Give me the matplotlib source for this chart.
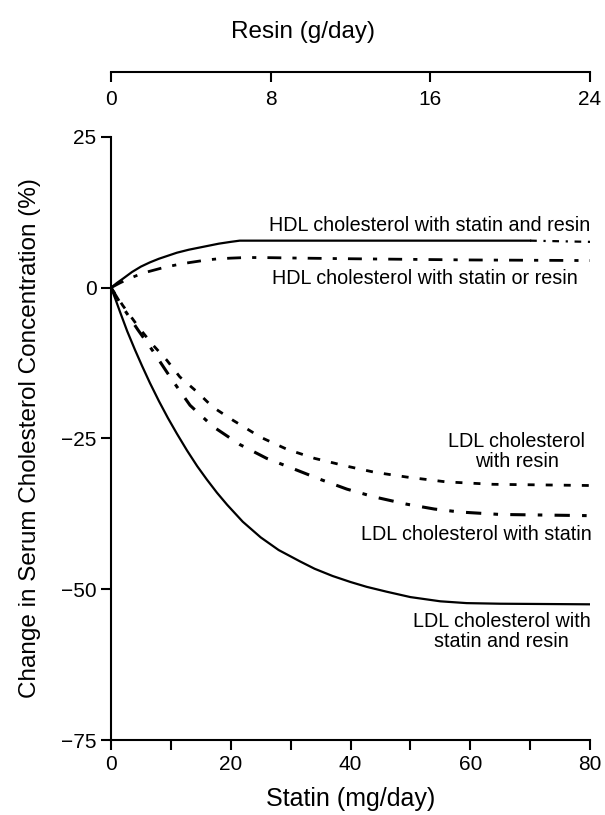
import numpy as np
import matplotlib.pyplot as plt

plt.rcParams['font.family'] = ['Liberation Sans', 'DejaVu Sans']

# values (statin mg/day vs % change)
hdl_both_x = [0, 1, 2, 3.5, 5, 6.5, 8, 9.5, 11, 13, 15, 16.5, 18, 20, 21.5, 30, 50, 70, 75, 80]
hdl_both_y = [0, 0.8, 1.5, 2.6, 3.5, 4.2, 4.8, 5.3, 5.8, 6.3, 6.7, 7.0, 7.3, 7.6, 7.8, 7.8, 7.8, 7.8, 7.7, 7.6]

hdl_one_x = [0, 1.5, 3, 4.5, 6, 7.5, 9, 10.5, 12, 14, 16, 18, 20, 22.5, 25, 32, 40, 60, 80]
hdl_one_y = [0, 0.8, 1.5, 2.1, 2.6, 3.0, 3.4, 3.7, 4.0, 4.3, 4.6, 4.8, 4.9, 5.0, 5.0, 4.9, 4.8, 4.6, 4.5]

ldl_resin_x = [0, 2, 4.8, 7, 9.3, 11.5, 14.4, 17, 20.4, 25, 29.4, 34, 39.4, 44, 49.4, 56, 63.8, 80]
ldl_resin_y = [0, -3, -6.8, -9.5, -12, -14.8, -17.3, -19.8, -22, -24.8, -26.8, -28.3, -29.6, -30.6, -31.4, -32.2, -32.6, -32.8]

ldl_statin_x = [0, 2, 4.5, 7, 10, 13.2, 17, 21.5, 26, 30.4, 35, 39.4, 44, 49.4, 54, 58.3, 65, 80]
ldl_statin_y = [0, -3.3, -7, -10.5, -15, -19.5, -23, -26, -28.3, -30, -31.8, -33.4, -34.7, -35.9, -36.7, -37.2, -37.6, -37.8]

ldl_both_x = [0, 0.7, 1.5, 2.7, 4, 5.2, 6.5, 8, 9.5, 11, 12.7, 14.4, 16, 17.7, 19.4, 22, 25, 28, 31.6, 34, 37, 40, 42.7, 46, 50, 55, 59.4, 65, 80]
ldl_both_y = [0, -1.8, -4.0, -7.2, -10.3, -13.0, -15.8, -18.8, -21.6, -24.2, -27.0, -29.6, -31.8, -34.0, -36.0, -38.8, -41.4, -43.5, -45.4, -46.6, -47.8, -48.8, -49.6, -50.4, -51.3, -52.0, -52.3, -52.4, -52.5]

statin_ticks = [0, 20, 40, 60, 80]
resin_ticks = [0, 8, 16, 24]
y_ticks = [25, 0, -25, -50, -75]
y_labels = ['25', '0', '\u221225', '\u221250', '\u221275']

fig = plt.figure(figsize=(6.05, 8.15), dpi=100)
ax = fig.add_axes([0.1835, 0.092, 0.7917, 0.740])

lw = 1.6
split = hdl_both_x.index(70)
ax.plot(hdl_both_x[:split + 1], hdl_both_y[:split + 1], color='black', lw=lw)
ax.plot(hdl_both_x[split:], hdl_both_y[split:], color='black', lw=lw, dashes=(3, 3, 1, 3))
ax.plot(hdl_one_x, hdl_one_y, color='black', lw=lw + 0.4, dashes=(5, 4, 1.5, 4))
ax.plot(ldl_resin_x, ldl_resin_y, color='black', lw=lw + 0.4, dashes=(2.5, 4))
ax.plot(ldl_statin_x, ldl_statin_y, color='black', lw=lw + 0.6, dashes=(5, 4, 1.5, 4))
ax.plot(ldl_both_x, ldl_both_y, color='black', lw=lw)

ax.set_xlim(0, 80)
ax.set_ylim(-75, 25)
ax.set_xticks(statin_ticks)
ax.set_xticks([10, 30, 50, 70], minor=True)
ax.set_yticks(y_ticks)
ax.set_yticklabels(y_labels)
for s in ['top', 'right']:
    ax.spines[s].set_visible(False)
for s in ['left', 'bottom']:
    ax.spines[s].set_linewidth(1.5)
ax.tick_params(which='both', direction='out', length=7, width=1.5, labelsize=15)
ax.set_xlabel('Statin (mg/day)', fontsize=18, labelpad=10)
ax.set_ylabel('Change in Serum Cholesterol Concentration (%)', fontsize=17.5, labelpad=14)

fs = 14.2
ax.text(80, 8.8, 'HDL cholesterol with statin and resin', ha='right', va='bottom', fontsize=fs)
ax.text(52.5, 1.5, 'HDL cholesterol with statin or resin', ha='center', va='center', fontsize=fs)
ax.text(67.8, -27.2, 'LDL cholesterol\nwith resin', ha='center', va='center', fontsize=fs, linespacing=1.05)
ax.text(80.3, -41, 'LDL cholesterol with statin', ha='right', va='center', fontsize=fs)
ax.text(65.2, -57.0, 'LDL cholesterol with\nstatin and resin', ha='center', va='center', fontsize=fs, linespacing=1.05)

# resin scale drawn as a separate axis above the plot
ax2 = fig.add_axes([0.1835, 0.912, 0.7917, 0.001])
ax2.set_xlim(0, 24)
ax2.set_xticks(resin_ticks)
ax2.set_yticks([])
for s in ['top', 'right', 'left']:
    ax2.spines[s].set_visible(False)
ax2.spines['bottom'].set_linewidth(1.5)
ax2.tick_params(direction='out', length=7, width=1.5, labelsize=15, pad=6)
ax2.patch.set_visible(False)
fig.text(0.501, 0.961, 'Resin (g/day)', ha='center', va='center', fontsize=17.5)

fig.savefig('out.png', dpi=100)
